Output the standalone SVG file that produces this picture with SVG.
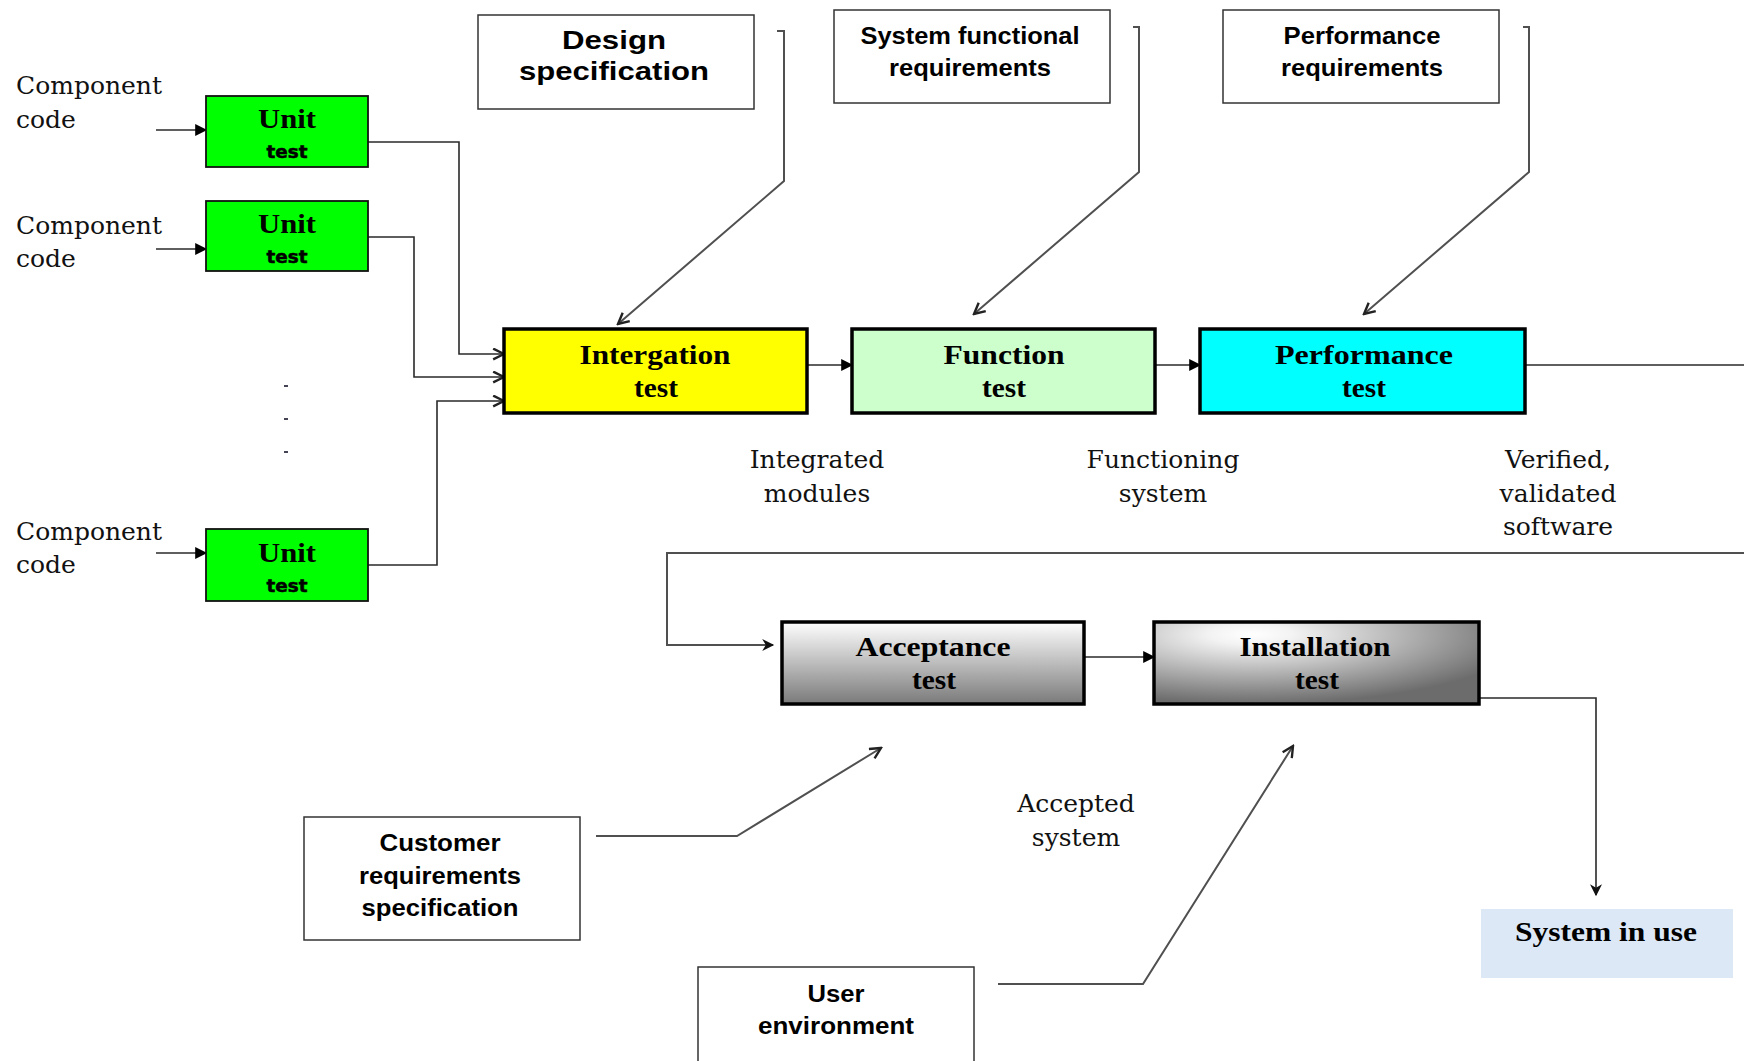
<svg xmlns="http://www.w3.org/2000/svg" width="1744" height="1061" viewBox="0 0 1744 1061">
<style>
.lbl{font-family:"DejaVu Serif","Liberation Serif",serif;font-size:25px;fill:#111;text-anchor:middle}
.lbll{font-family:"DejaVu Serif","Liberation Serif",serif;font-size:25px;fill:#111}
.bs{font-family:"Liberation Serif","Times New Roman",serif;font-weight:bold;font-size:27px;fill:#000;text-anchor:middle}
.ss{font-family:"Liberation Sans",Arial,sans-serif;font-weight:bold;font-size:23px;fill:#000;text-anchor:middle}
.tt{font-family:"DejaVu Sans",sans-serif;font-weight:bold;font-size:17px;fill:#000;text-anchor:middle;stroke:#000;stroke-width:0.5}
.req{fill:#fff;stroke:#333;stroke-width:1.5}
.unit{fill:#00ff00;stroke:#111;stroke-width:1.8}
.stage{stroke:#000;stroke-width:3.5}
.ln{fill:none;stroke:#2a2a2a;stroke-width:1.6}
.gl{fill:none;stroke:#505050;stroke-width:2}
</style>
<defs>
<marker id="tri" viewBox="0 0 10 10" refX="9" refY="5" markerWidth="15" markerHeight="12" markerUnits="userSpaceOnUse" orient="auto"><path d="M0,0 L10,5 L0,10 z" fill="#000"/></marker>
<marker id="vee" viewBox="0 0 12 12" refX="11" refY="6" markerWidth="14" markerHeight="13" markerUnits="userSpaceOnUse" orient="auto"><path d="M1,1 L11,6 L1,11" fill="none" stroke="#222" stroke-width="2.2"/></marker>
<marker id="barb" viewBox="0 0 10 10" refX="9" refY="5" markerWidth="14" markerHeight="12" markerUnits="userSpaceOnUse" orient="auto"><path d="M0,0 L10,5 L0,10 L3,5 z" fill="#111"/></marker>
<linearGradient id="gAcc" x1="0" y1="0" x2="0" y2="1"><stop offset="0" stop-color="#ffffff"/><stop offset="1" stop-color="#7a7a7a"/></linearGradient>
<radialGradient id="gIns" cx="0.3" cy="0.15" r="0.85"><stop offset="0" stop-color="#ffffff"/><stop offset="0.15" stop-color="#f3f3f3"/><stop offset="1" stop-color="#6c6c6c"/></radialGradient>
</defs>
<rect width="1744" height="1061" fill="#fff"/>

<g id="connectors">
<path class="ln" d="M156,130 L206,130" marker-end="url(#tri)"/>
<path class="ln" d="M156,249 L206,249" marker-end="url(#tri)"/>
<path class="ln" d="M156,553 L206,553" marker-end="url(#tri)"/>
<path class="ln" d="M368,142 L459,142 L459,354 L504,354" marker-end="url(#vee)"/>
<path class="ln" d="M368,237 L414,237 L414,377 L504,377" marker-end="url(#vee)"/>
<path class="ln" d="M368,565 L437,565 L437,401 L504,401" marker-end="url(#vee)"/>
<path class="gl" d="M777,31 L784,31 L784,181 L618,324" marker-end="url(#vee)"/>
<path class="gl" d="M1133,27 L1139,27 L1139,172 L974,314" marker-end="url(#vee)"/>
<path class="gl" d="M1523,27 L1529,27 L1529,172 L1364,314" marker-end="url(#vee)"/>
<path class="ln" d="M807,365 L852,365" marker-end="url(#tri)"/>
<path class="ln" d="M1155,365 L1200,365" marker-end="url(#tri)"/>
<path class="ln" d="M1525,365 L1744,365"/>
<path class="gl" d="M1744,553 L667,553 L667,645 L773,645" marker-end="url(#barb)"/>
<path class="ln" d="M1084,657 L1154,657" marker-end="url(#tri)"/>
<path class="ln" d="M1479,698 L1596,698 L1596,895" marker-end="url(#barb)"/>
<path class="gl" d="M596,836 L737,836 L881,748" marker-end="url(#vee)"/>
<path class="gl" d="M998,984 L1143,984 L1293,746" marker-end="url(#vee)"/>
</g>

<g id="labels">
<text class="lbll" x="16" y="94">Component</text><text class="lbll" x="16" y="128">code</text>
<text class="lbll" x="16" y="234">Component</text><text class="lbll" x="16" y="267">code</text>
<text class="lbll" x="16" y="540">Component</text><text class="lbll" x="16" y="573">code</text>
<text class="lbl" x="817" y="468">Integrated</text><text class="lbl" x="817" y="502">modules</text>
<text class="lbl" x="1163" y="468">Functioning</text><text class="lbl" x="1163" y="502">system</text>
<text class="lbl" x="1558" y="468">Verified,</text><text class="lbl" x="1558" y="502">validated</text><text class="lbl" x="1558" y="535">software</text>
<text class="lbl" x="1076" y="812">Accepted</text><text class="lbl" x="1076" y="846">system</text>
<rect x="284" y="385" width="4" height="2" fill="#445"/>
<rect x="284" y="418" width="4" height="2" fill="#445"/>
<rect x="284" y="451" width="4" height="2" fill="#445"/>
</g>

<g id="unit1"><rect class="unit" x="206" y="96" width="162" height="71"/>
<text class="bs" x="287" y="128" textLength="58" lengthAdjust="spacingAndGlyphs">Unit</text>
<text class="tt" x="287" y="158" textLength="41" lengthAdjust="spacingAndGlyphs">test</text></g>
<g id="unit2"><rect class="unit" x="206" y="201" width="162" height="70"/>
<text class="bs" x="287" y="233" textLength="58" lengthAdjust="spacingAndGlyphs">Unit</text>
<text class="tt" x="287" y="263" textLength="41" lengthAdjust="spacingAndGlyphs">test</text></g>
<g id="unit3"><rect class="unit" x="206" y="529" width="162" height="72"/>
<text class="bs" x="287" y="562" textLength="58" lengthAdjust="spacingAndGlyphs">Unit</text>
<text class="tt" x="287" y="592" textLength="41" lengthAdjust="spacingAndGlyphs">test</text></g>

<g id="design-spec"><rect class="req" x="478" y="15" width="276" height="94"/>
<text class="ss" style="font-size:25px" x="614" y="49" textLength="104" lengthAdjust="spacingAndGlyphs">Design</text>
<text class="ss" style="font-size:25px" x="614" y="80" textLength="190" lengthAdjust="spacingAndGlyphs">specification</text></g>
<g id="sys-func-req"><rect class="req" x="834" y="10" width="276" height="93"/>
<text class="ss" x="970" y="44" textLength="219" lengthAdjust="spacingAndGlyphs">System functional</text>
<text class="ss" x="970" y="76" textLength="162" lengthAdjust="spacingAndGlyphs">requirements</text></g>
<g id="perf-req"><rect class="req" x="1223" y="10" width="276" height="93"/>
<text class="ss" x="1362" y="44" textLength="157" lengthAdjust="spacingAndGlyphs">Performance</text>
<text class="ss" x="1362" y="76" textLength="162" lengthAdjust="spacingAndGlyphs">requirements</text></g>

<g id="integration"><rect class="stage" fill="#ffff00" x="504" y="329" width="303" height="84"/>
<text class="bs" x="655" y="364" textLength="151" lengthAdjust="spacingAndGlyphs">Intergation</text>
<text class="bs" x="656" y="397" textLength="44" lengthAdjust="spacingAndGlyphs">test</text></g>
<g id="function"><rect class="stage" fill="#ccffcc" x="852" y="329" width="303" height="84"/>
<text class="bs" x="1004" y="364" textLength="121" lengthAdjust="spacingAndGlyphs">Function</text>
<text class="bs" x="1004" y="397" textLength="44" lengthAdjust="spacingAndGlyphs">test</text></g>
<g id="performance"><rect class="stage" fill="#00ffff" x="1200" y="329" width="325" height="84"/>
<text class="bs" x="1364" y="364" textLength="178" lengthAdjust="spacingAndGlyphs">Performance</text>
<text class="bs" x="1364" y="397" textLength="44" lengthAdjust="spacingAndGlyphs">test</text></g>

<g id="acceptance"><rect class="stage" fill="url(#gAcc)" x="782" y="622" width="302" height="82"/>
<text class="bs" x="933" y="656" textLength="155" lengthAdjust="spacingAndGlyphs">Acceptance</text>
<text class="bs" x="934" y="689" textLength="44" lengthAdjust="spacingAndGlyphs">test</text></g>
<g id="installation"><rect class="stage" fill="url(#gIns)" x="1154" y="622" width="325" height="82"/>
<text class="bs" x="1315" y="656" textLength="151" lengthAdjust="spacingAndGlyphs">Installation</text>
<text class="bs" x="1317" y="689" textLength="44" lengthAdjust="spacingAndGlyphs">test</text></g>

<g id="customer-req"><rect class="req" x="304" y="817" width="276" height="123"/>
<text class="ss" x="440" y="851" textLength="121" lengthAdjust="spacingAndGlyphs">Customer</text>
<text class="ss" x="440" y="884" textLength="162" lengthAdjust="spacingAndGlyphs">requirements</text>
<text class="ss" x="440" y="916" textLength="157" lengthAdjust="spacingAndGlyphs">specification</text></g>
<g id="user-env"><rect class="req" x="698" y="967" width="276" height="100"/>
<text class="ss" x="836" y="1002" textLength="57" lengthAdjust="spacingAndGlyphs">User</text>
<text class="ss" x="836" y="1034" textLength="156" lengthAdjust="spacingAndGlyphs">environment</text></g>

<g id="system-in-use"><rect x="1481" y="909" width="252" height="69" fill="#dce8f6"/>
<text class="bs" x="1606" y="941" textLength="182" lengthAdjust="spacingAndGlyphs">System in use</text></g>
</svg>
